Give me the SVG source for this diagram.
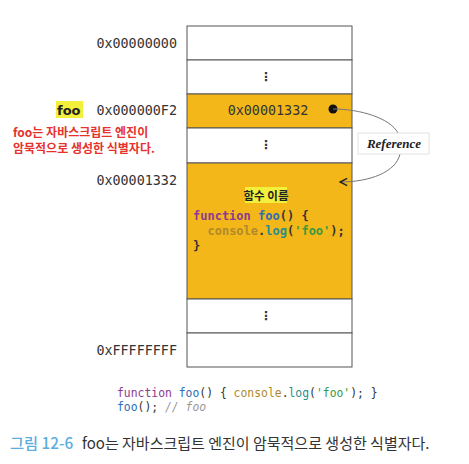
<svg xmlns="http://www.w3.org/2000/svg" width="469" height="464" viewBox="0 0 469 464">
<style>
.cell{stroke:#555;stroke-width:1;}
.w{fill:#fff;}
.o{fill:#F3B71A;}
.addr{font-family:"DejaVu Sans Mono",monospace;font-size:13.4px;fill:#333;}
.code{font-family:"DejaVu Sans Mono",monospace;font-size:12px;font-weight:bold;}
.code2{font-family:"DejaVu Sans Mono",monospace;font-size:11.4px;}
.dots{font-family:"DejaVu Sans",sans-serif;font-size:12px;font-weight:bold;fill:#333;}
.kw{fill:#8E3A8E;}
.fn{fill:#2E6DB5;}
.cn{fill:#B08A2A;}
.lg{fill:#2A8C8C;}
.st{fill:#3C9A3C;}
.pl{fill:#333;}
.cm{fill:#999;font-style:italic;}
.red{font-family:"Noto Sans CJK KR","Noto Sans",sans-serif;font-size:12px;font-weight:bold;fill:#E5322D;}
</style>
<defs>
<marker id="arr" viewBox="0 0 10 10" refX="9" refY="5" markerWidth="9" markerHeight="9" orient="auto" markerUnits="userSpaceOnUse">
<path d="M1,1 L9,5 L1,9" fill="none" stroke="#222" stroke-width="1.6"/>
</marker>
</defs>
<rect width="469" height="464" fill="#fff"/>
<g id="memory">
<rect class="cell w" x="187" y="26" width="165" height="34"/>
<rect class="cell w" x="187" y="60" width="165" height="34"/>
<rect class="cell o" x="187" y="94" width="165" height="34"/>
<rect class="cell w" x="187" y="128" width="165" height="35"/>
<rect class="cell o" x="187" y="163" width="165" height="136"/>
<rect class="cell w" x="187" y="299" width="165" height="34"/>
<rect class="cell w" x="187" y="333" width="165" height="34"/>
<text class="dots" x="266" y="81" text-anchor="middle">⋮</text>
<text class="dots" x="266" y="149" text-anchor="middle">⋮</text>
<text class="dots" x="266" y="320" text-anchor="middle">⋮</text>
</g>
<g id="addresses">
<text class="addr" x="177" y="48" text-anchor="end">0x00000000</text>
<text class="addr" x="177" y="115" text-anchor="end">0x000000F2</text>
<text class="addr" x="177" y="185" text-anchor="end">0x00001332</text>
<text class="addr" x="177" y="355" text-anchor="end">0xFFFFFFFF</text>
</g>
<g id="foo-label">
<rect x="56" y="101" width="27" height="17" fill="#F2F03A"/>
<text x="57" y="115" font-family="DejaVu Sans,sans-serif" font-size="13px" font-weight="bold" fill="#222">foo</text>
<text class="red" x="13" y="137">foo는 자바스크립트 엔진이</text>
<text class="red" x="13" y="153">암묵적으로 생성한 식별자다.</text>
</g>
<g id="value-cell">
<text class="addr" x="268" y="115" text-anchor="middle">0x00001332</text>
<circle cx="333" cy="109" r="4.5" fill="#111"/>
</g>
<g id="function-object">
<rect x="245" y="187" width="42" height="16" fill="#F2F03A"/>
<text x="266" y="200" text-anchor="middle" font-family="Noto Sans CJK KR,sans-serif" font-size="11.5px" font-weight="bold" fill="#222">함수 이름</text>
<text class="code" x="193" y="220"><tspan class="kw">function</tspan> <tspan class="fn">foo</tspan><tspan class="pl">() {</tspan></text>
<text class="code" x="193" y="235" xml:space="preserve"><tspan class="pl">  </tspan><tspan class="cn">console</tspan><tspan class="pl">.</tspan><tspan class="lg">log</tspan><tspan class="pl">(</tspan><tspan class="st">'foo'</tspan><tspan class="pl">);</tspan></text>
<text class="code pl" x="193" y="250">}</text>
</g>
<g id="connectors">
<path d="M333,109 C360,109 390,118 398,133" fill="none" stroke="#777" stroke-width="1"/>
<path d="M400,154 C396,172 370,182 340,182" fill="none" stroke="#777" stroke-width="1" marker-end="url(#arr)"/>
</g>
<g id="reference-label">
<rect x="358" y="133" width="71" height="21" fill="#fff" stroke="#e2e2e2" stroke-width="1"/>
<text x="394" y="148" text-anchor="middle" font-family="Liberation Serif,serif" font-size="13px" font-weight="bold" font-style="italic" fill="#222">Reference</text>
</g>
<g id="source-code">
<text class="code2" x="117" y="397"><tspan class="kw">function</tspan> <tspan class="fn">foo</tspan><tspan class="pl">() { </tspan><tspan class="cn">console</tspan><tspan class="pl">.</tspan><tspan class="lg">log</tspan><tspan class="pl">(</tspan><tspan class="st">'foo'</tspan><tspan class="pl">); }</tspan></text>
<text class="code2" x="117" y="411"><tspan class="fn">foo</tspan><tspan class="pl">(); </tspan><tspan class="cm">// foo</tspan></text>
</g>
<g id="caption">
<text x="10" y="449" font-family="Noto Sans CJK KR,sans-serif" font-size="15.3px" font-weight="500" fill="#5AAEE0">그림 12-6</text>
<text x="82" y="449" font-family="Noto Sans CJK KR,sans-serif" font-size="15px" fill="#333">foo는 자바스크립트 엔진이 암묵적으로 생성한 식별자다.</text>
</g>
</svg>
